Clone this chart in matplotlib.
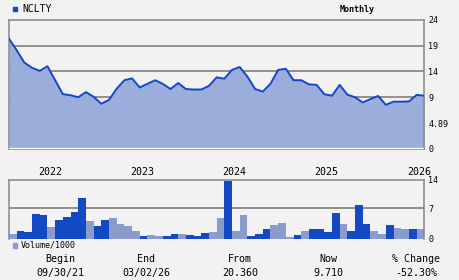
"""Monthly price and volume chart for NCLTY."""
import matplotlib.pyplot as plt
import numpy as np

W, H = 460, 280
BG = "#f2f2f2"
FILL = "#9baedb"
LINE = "#1446cc"
DARK = "#1449c6"
LIGHT = "#8a9ccb"
GRID = "#888888"
MONO = "DejaVu Sans Mono"

# month-end closes, index 0 = 09/30/21
price = [20.3, 18.1, 15.7, 14.7, 14.1, 15.0, 12.3, 9.6, 9.4, 9.0,
         10.0, 9.1, 7.75, 8.5, 10.65, 12.3, 12.65, 10.9, 11.6, 12.3,
         11.6, 10.6, 11.75, 10.6, 10.5, 10.5, 11.2, 12.85, 12.6, 14.3,
         14.85, 13.0, 10.6, 10.1, 11.6, 14.3, 14.5, 12.3, 12.3, 11.5,
         11.4, 9.6, 9.3, 11.4, 9.5, 9.0, 8.0, 8.65, 9.25, 7.55,
         8.15, 8.15, 8.2, 9.45, 9.3]

# monthly volume / 1000 and whether the bar is the dark (up) shade
volume = [1.15, 1.85, 1.7, 5.8, 5.5, 2.8, 4.4, 5.1, 6.2, 9.5,
          4.2, 3.0, 4.4, 4.8, 3.5, 3.0, 1.85, 0.7, 0.9, 0.7,
          0.7, 1.15, 1.15, 0.9, 0.7, 1.4, 1.6, 4.8, 13.2, 1.85,
          5.5, 0.7, 1.15, 2.3, 3.2, 3.7, 0.45, 0.9, 1.85, 2.3,
          2.3, 1.6, 6.0, 3.45, 1.85, 7.8, 3.45, 1.85, 1.15, 3.2,
          2.5, 2.3, 2.3, 2.3]
vol_up = [0, 1, 1, 1, 1, 0, 1, 1, 1, 1,
          0, 1, 1, 0, 0, 0, 0, 1, 0, 0,
          1, 1, 0, 1, 1, 1, 0, 0, 1, 0,
          0, 1, 1, 1, 0, 0, 0, 1, 0, 1,
          1, 1, 1, 0, 1, 1, 1, 0, 0, 1,
          0, 0, 1, 0]

year_labels = ["2022", "2023", "2024", "2025", "2026"]
year_pos = [5.3, 17.3, 29.3, 41.3, 53.3]

price_ticks = [24, 19, 14, 9, 4, -1]
price_tick_labels = ["24", "19", "14", "9", "4.89", "0"]

summary = [("Begin", "09/30/21", 60), ("End", "03/02/26", 146),
           ("From", "20.360", 240), ("Now", "9.710", 328),
           ("% Change", "-52.30%", 416)]


def px(x, y):
    """Pixel position (from top-left) to figure coordinates."""
    return x / W, 1 - y / H


def axes_box(left, top, right, bottom):
    return [left / W, 1 - bottom / H, (right - left) / W, (bottom - top) / H]


fig = plt.figure(figsize=(W / 100, H / 100), dpi=100, facecolor=BG)

# price panel
ax = fig.add_axes(axes_box(9, 19.7, 424.3, 149))
ax.set_facecolor(BG)
x = np.arange(len(price))
ax.set_xlim(0, len(price) - 1)
ax.set_ylim(-1, 24)
for g in [19, 14, 9]:
    ax.axhline(g, color=GRID, lw=1.3, zorder=1)
ax.fill_between(x, price, -0.75, color=FILL, lw=0, zorder=2)
ax.axhline(-0.82, color="white", lw=0.9, zorder=3)
ax.plot(x, price, color=LINE, lw=1.4, zorder=4)
ax.yaxis.tick_right()
ax.set_yticks(price_ticks, price_tick_labels, family=MONO, fontsize=6)
ax.set_xticks(year_pos, year_labels, family=MONO, fontsize=7.2)
ax.tick_params(length=0, pad=3)
ax.tick_params(axis="x", pad=13)
for s in ax.spines.values():
    s.set_color(GRID)
    s.set_linewidth(1.1)

# volume panel
av = fig.add_axes(axes_box(9, 179.7, 424.3, 239))
av.set_facecolor(BG)
bx = np.arange(len(volume)) + 0.5
colors = [DARK if u else LIGHT for u in vol_up]
av.bar(bx, volume, width=1.0, color=colors, lw=0, zorder=2)
av.axhline(7, color=GRID, lw=1.3, zorder=1)
av.set_xlim(0, len(volume))
av.set_ylim(0, 13.6)
av.yaxis.tick_right()
av.set_yticks([0, 7, 13.6], ["0", "7", "14"], family=MONO, fontsize=6)
av.set_xticks([])
av.tick_params(length=0, pad=3)
for name, s in av.spines.items():
    s.set_color(GRID)
    s.set_linewidth(1.1)
av.spines["bottom"].set_visible(False)

# legends
fig.patches.append(plt.Rectangle(px(13.3, 11.3), 4 / W, 4 / H,
                                 transform=fig.transFigure, color=DARK))
fig.text(*px(22.5, 9.3), "NCLTY", family=MONO, fontsize=7, va="center")
fig.text(*px(357, 9.3), "Monthly", family=MONO, fontsize=6,
         weight="bold", va="center", ha="center")
fig.patches.append(plt.Rectangle(px(13.3, 247.7), 4 / W, 4.5 / H,
                                 transform=fig.transFigure, color=LIGHT))
fig.text(*px(20.5, 245.5), "Volume/1000", family=MONO, fontsize=6,
         va="center")

# summary row
for head, val, cx in summary:
    fig.text(*px(cx, 259.5), head, family=MONO, fontsize=7.2,
             ha="center", va="center")
    fig.text(*px(cx, 272.8), val, family=MONO, fontsize=7.2,
             ha="center", va="center")

fig.savefig("out.png", dpi=100, facecolor=BG)
